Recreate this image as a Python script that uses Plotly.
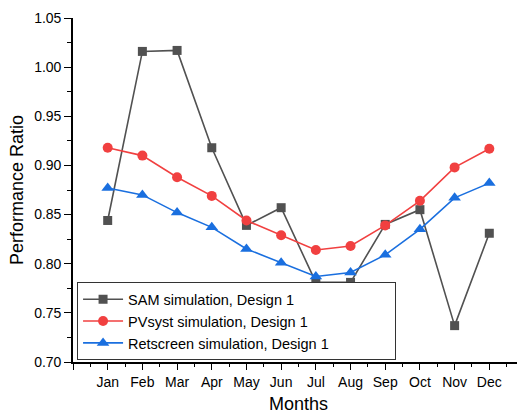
import plotly.graph_objects as go

months = ["Jan", "Feb", "Mar", "Apr", "May", "Jun", "Jul", "Aug", "Sep", "Oct", "Nov", "Dec"]
month_pos = [1, 2, 3, 4, 5, 6, 7, 8, 9, 10, 11, 12]
sam = [0.844, 1.016, 1.017, 0.918, 0.839, 0.857, 0.781, 0.781, 0.840, 0.855, 0.737, 0.831]
pvsyst = [0.918, 0.910, 0.888, 0.869, 0.844, 0.829, 0.814, 0.818, 0.839, 0.864, 0.898, 0.917]
retscreen = [0.877, 0.870, 0.852, 0.837, 0.815, 0.801, 0.787, 0.791, 0.809, 0.835, 0.867, 0.882]

series_names = ["SAM simulation, Design 1", "PVsyst simulation, Design 1", "Retscreen simulation, Design 1"]
colors = ["#515151", "#F14040", "#1A6FDF"]
symbols = ["square", "circle", "triangle-up"]
sizes = [9, 10, 11]

FONT = "Liberation Sans, Arial, sans-serif"

fig = go.Figure()
for name, vals, c, s, sz in zip(series_names, [sam, pvsyst, retscreen], colors, symbols, sizes):
    fig.add_trace(go.Scatter(
        x=month_pos, y=vals, name=name, mode="lines+markers",
        line=dict(color=c, width=1.6),
        marker=dict(symbol=s, size=sz, color=c, line=dict(width=0)),
    ))

tickvals = list(range(0, 14))
ticktext = [""] + months + [""]

# page body has an 8px margin, so the figure is sized 8px smaller
fig.update_layout(
    width=517, height=406,
    margin=dict(l=65, r=1, t=10, b=52, autoexpand=False),
    paper_bgcolor="white", plot_bgcolor="white",
    font=dict(family=FONT, color="black"),
    showlegend=True,
    legend=dict(
        orientation="h", entrywidth=262, entrywidthmode="pixels",
        x=0.009, y=0.005, xanchor="left", yanchor="bottom",
        bgcolor="white", bordercolor="#333333", borderwidth=1,
        font=dict(size=14.5, family=FONT, color="black"),
        tracegroupgap=0, itemwidth=40,
    ),
    xaxis=dict(
        range=[0, 13], tickmode="array", tickvals=tickvals, ticktext=ticktext,
        ticks="outside", ticklen=6, tickwidth=1.2, tickcolor="black",
        minor=dict(dtick=0.5, tick0=0, ticklen=3, tickwidth=1.2, tickcolor="black", ticks="outside"),
        showline=True, linecolor="black", linewidth=1.6, showgrid=False, zeroline=False,
        tickfont=dict(size=14), automargin=False,
    ),
    yaxis=dict(
        range=[0.70, 1.05], tick0=0.70, dtick=0.05, tickformat=".2f",
        ticks="outside", ticklen=7, tickwidth=1.2, tickcolor="black",
        minor=dict(dtick=0.025, tick0=0.70, ticklen=4, tickwidth=1.2, tickcolor="black", ticks="outside"),
        showline=True, linecolor="black", linewidth=1.6, showgrid=False, zeroline=False,
        tickfont=dict(size=14), automargin=False,
    ),
    xaxis2=dict(
        overlaying="x", side="top", range=[0, 5], dtick=1, tick0=0,
        ticks="inside", ticklen=6, tickwidth=1.2, tickcolor="black",
        minor=dict(dtick=0.5, tick0=0, ticklen=3, tickwidth=1.2, tickcolor="black", ticks="inside"),
        showticklabels=False, showline=True, linecolor="black", linewidth=1.6,
        showgrid=False, zeroline=False, automargin=False,
    ),
    yaxis2=dict(
        overlaying="y", side="right", range=[0, 5], dtick=1, tick0=0,
        ticks="inside", ticklen=6, tickwidth=1.2, tickcolor="black",
        minor=dict(dtick=0.5, tick0=0, ticklen=3, tickwidth=1.2, tickcolor="black", ticks="inside"),
        showticklabels=False, showline=True, linecolor="black", linewidth=1.6,
        showgrid=False, zeroline=False, automargin=False,
    ),
    annotations=[
        dict(text="Months", xref="paper", yref="paper", x=0.5, y=0, yshift=-42,
             xanchor="center", yanchor="middle", showarrow=False,
             font=dict(size=18, family=FONT, color="black")),
        dict(text="Performance Ratio", xref="paper", yref="paper", x=0, y=0.5, xshift=-56,
             xanchor="center", yanchor="middle", textangle=-90, showarrow=False,
             font=dict(size=18, family=FONT, color="black")),
    ],
)

fig.write_html("out.html")
